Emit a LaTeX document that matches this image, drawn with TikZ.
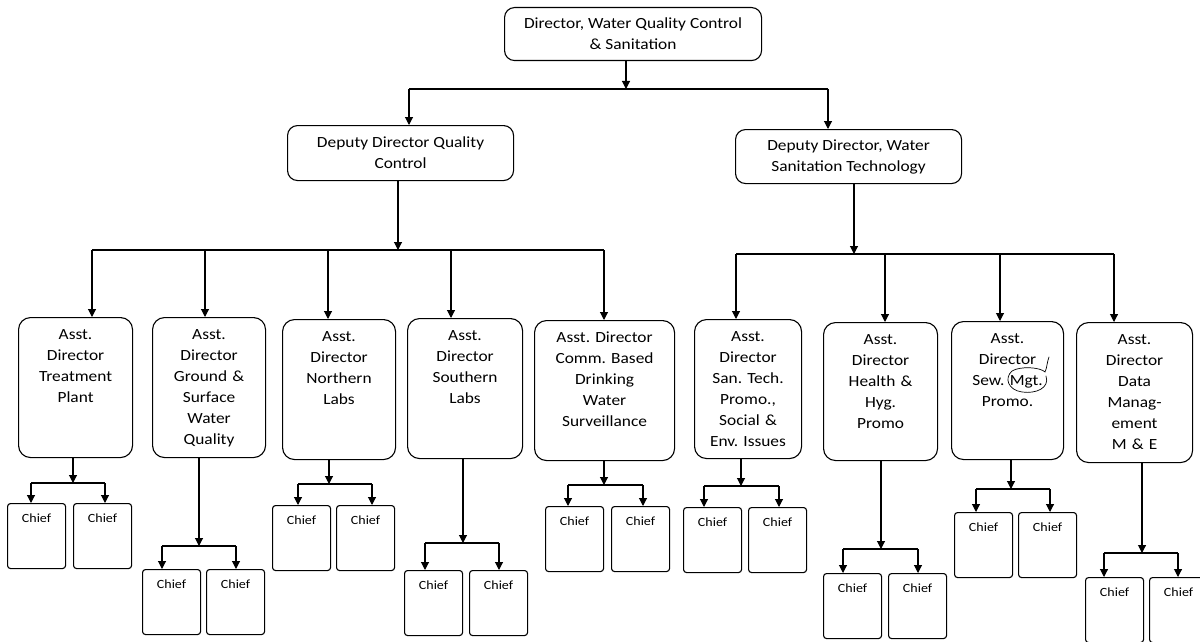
\documentclass[tikz,border=0pt]{standalone}
\usepackage{fontspec}
\setmainfont{Carlito}[FakeStretch=1.12]
\usetikzlibrary{arrows.meta}
\frenchspacing
\begin{document}
\begin{tikzpicture}[x=1pt,y=-1pt,
  ln/.style={line width=1.1pt},
  arr/.style={ln,-{Triangle[length=8pt,width=8pt]}},
  headbox/.style={draw,line width=1.1pt,rounded corners=10pt,align=center,
    inner sep=0pt,anchor=north west,font=\fontsize{15.5}{21}\selectfont},
  asstbox/.style={draw,line width=1.1pt,rounded corners=12pt,align=center,
    inner sep=0pt,anchor=north west,text height=22pt,
    font=\fontsize{15.5}{21}\selectfont},
  chiefbox/.style={draw,line width=1.1pt,rounded corners=3pt,inner sep=0pt,
    anchor=north west,minimum width=58pt,text height=19pt,text depth=46pt,
    font=\fontsize{12.5}{15}\selectfont},
]
\useasboundingbox (0,0) rectangle (1200,642);

% director and deputies
\node[headbox,minimum width=257pt,minimum height=53pt] (dir) at (504,7)
  {Director, Water Quality Control\\\& Sanitation};
\node[headbox,minimum width=226pt,minimum height=55pt] (dqc) at (287,125)
  {Deputy Director Quality\\Control};
\node[headbox,minimum width=226pt,minimum height=54pt] (dws) at (735,129)
  {Deputy Director, Water\\Sanitation Technology};

\coordinate (j0) at (626,89);
\coordinate (jL) at (409,89);
\coordinate (jR) at (828,89);
\draw[arr] (j0 |- dir.south) -- (j0);
\draw[ln] (jL) -- (jR);
\draw[arr] (jL) -- (jL |- dqc.north);
\draw[arr] (jR) -- (jR |- dws.north);

% assistant directors
\node[asstbox,text width=114pt,text depth=118pt] (a1) at (18,317)
  {Asst.\\Director\\Treatment\\Plant};
\node[asstbox,text width=113pt,text depth=118pt] (a2) at (152,317)
  {Asst.\\Director\\Ground \&\\Surface\\Water\\Quality};
\node[asstbox,text width=113pt,text depth=118pt] (a3) at (282,319)
  {Asst.\\Director\\Northern\\Labs};
\node[asstbox,text width=115pt,text depth=118pt] (a4) at (407,318)
  {Asst.\\Director\\Southern\\Labs};
\node[asstbox,text width=140pt,text depth=118pt] (a5) at (534,320)
  {Asst. Director\\Comm. Based\\Drinking\\Water\\Surveillance};
\node[asstbox,text width=107pt,text depth=117pt] (a6) at (694,319)
  {Asst.\\Director\\San. Tech.\\Promo.,\\Social \&\\Env. Issues};
\node[asstbox,text width=114pt,text depth=116pt] (a7) at (823,322)
  {Asst.\\Director\\Health \&\\Hyg.\\Promo};
\node[asstbox,text width=112pt,text depth=116pt] (a8) at (951,321)
  {Asst.\\Director\\Sew. Mgt.\\Promo.};
\node[asstbox,text width=116pt,text depth=118pt] (a9) at (1076,322)
  {Asst.\\Director\\Data\\Manag-\\ement\\M \& E};

% buses to the assistant directors
\coordinate (bL) at (398,250);
\coordinate (bR) at (854,254);
\draw[arr] (bL |- dqc.south) -- (bL);
\draw[arr] (bR |- dws.south) -- (bR);
\draw[ln] (92,250) -- (604,250);
\draw[ln] (736,254) -- (1114,254);
\foreach \n/\x in {a1/92,a2/205,a3/328,a4/451,a5/604}
  \draw[arr] (\x,250) -- (\x,250 |- \n.north);
\foreach \n/\x in {a6/736,a7/885,a8/1000,a9/1114}
  \draw[arr] (\x,254) -- (\x,254 |- \n.north);

% chiefs under each assistant director
\foreach \n/\dx/\by/\xa/\xb/\cy/\ca/\cb in {
    a1/73/483/31/105/503/7/73,
    a2/199/546/162/236/569/142/206,
    a3/329/484/298/372/505/272/336,
    a4/463/543/425/499/570/404/469,
    a5/604/485/568/643/506/545/611,
    a6/741/486/704/779/507/683/748,
    a7/881/549/843/918/573/823/888,
    a8/1011/489/976/1050/512/954/1018,
    a9/1142/553/1104/1178/577/1085/1149}{
  \node[chiefbox] (\n c1) at (\ca,\cy) {Chief};
  \node[chiefbox] (\n c2) at (\cb,\cy) {Chief};
  \coordinate (\n j) at (\dx,\by);
  \draw[arr] (\n j |- \n.south) -- (\n j);
  \draw[ln] (\xa,\by) -- (\xb,\by);
  \draw[arr] (\xa,\by) -- (\xa,\by |- \n c1.north);
  \draw[arr] (\xb,\by) -- (\xb,\by |- \n c2.north);
}

% pen mark around "Mgt."
\draw[line width=0.7pt,line cap=round]
  (1046,376) .. controls (1050,388) and (1036,394) .. (1022,392)
  .. controls (1008,390) and (1004,378) .. (1012,371)
  .. controls (1020,366) and (1040,367) .. (1045,372)
  .. controls (1047,368) and (1047,362) .. (1049,357);
\end{tikzpicture}
\end{document}
